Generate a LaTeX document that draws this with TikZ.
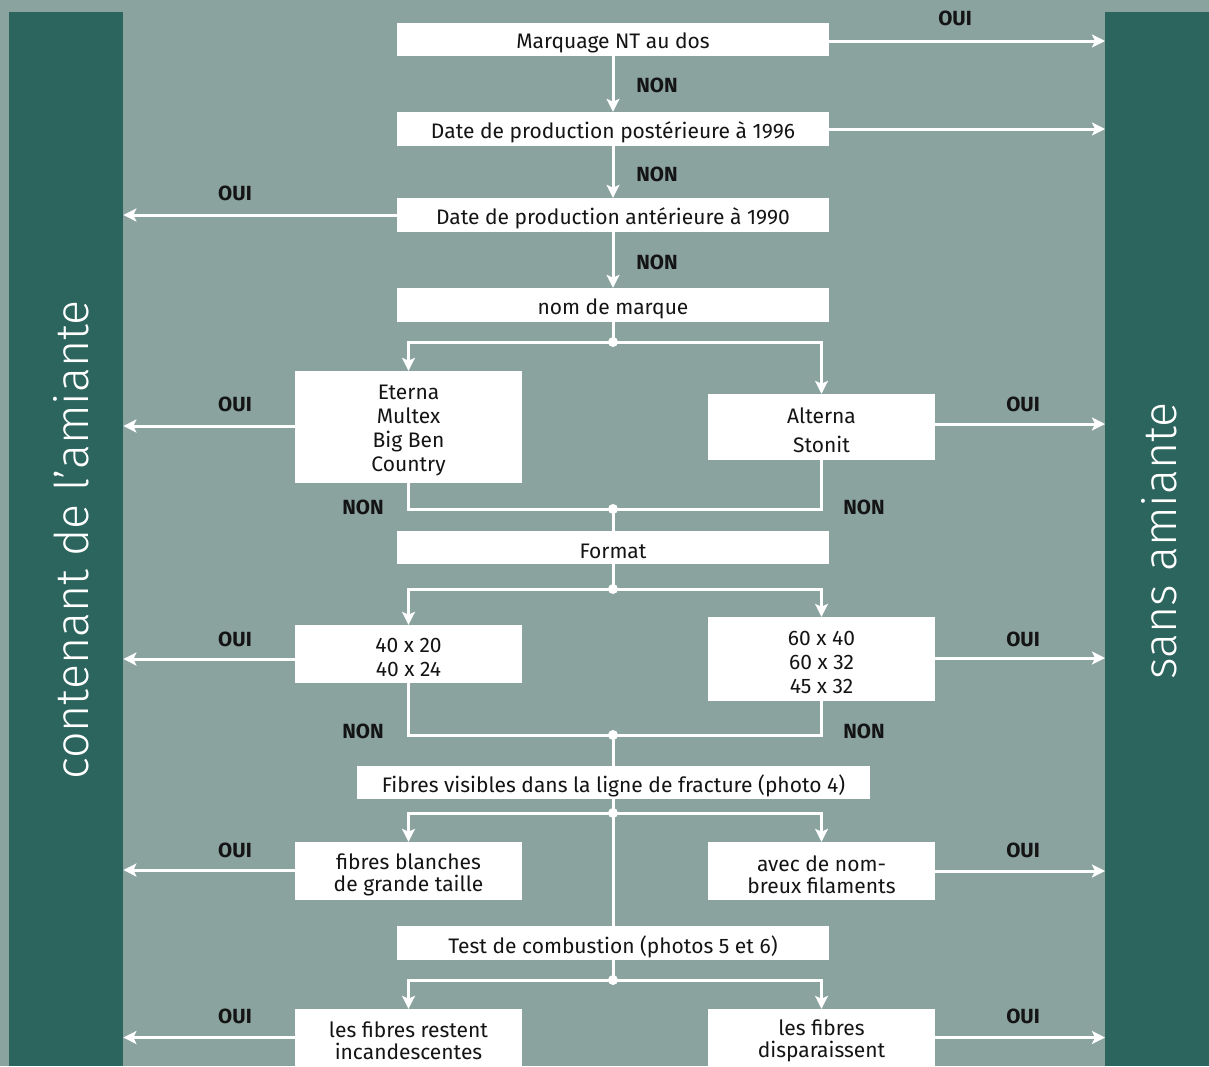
\documentclass[tikz,border=0pt]{standalone}
\usepackage{fontspec}
\setmainfont{Fira Sans}
\newfontfamily\lightfont{Fira Sans Light}
\usetikzlibrary{arrows.meta}
\definecolor{bgc}{RGB}{138,163,159}
\definecolor{darkc}{RGB}{44,101,93}
\definecolor{ink}{RGB}{20,20,20}
\begin{document}
\begin{tikzpicture}[x=1pt,y=-1pt,
 boxtxt/.style={inner sep=0pt,align=center,text=ink,yshift=-3.5pt,font=\fontsize{21}{23.7}\selectfont},
 box/.style={fill=white,inner sep=0pt,label={[boxtxt]center:{#1}}},
 wide/.style={box={#1},minimum width=432pt,minimum height=34pt},
 small/.style={box={#1},minimum width=227pt},
 wire/.style={white,line width=3pt},
 arr/.style={wire,-{Stealth[length=13pt,width=13pt,inset=3pt]}},
 dot/.style={circle,fill=white,inner sep=0pt,minimum size=10pt},
 lab/.style={text=ink,font=\fontsize{20.5}{23}\selectfont\bfseries},
 bar/.style={fill=darkc,inner sep=0pt,anchor=north west,minimum height=1054pt},
 side/.style={white,font=\lightfont\fontsize{46.5}{50}\selectfont,rotate=90}]
\fill[bgc] (0,0) rectangle (1209,1066);
\useasboundingbox (0,0) rectangle (1209,1066);
% side bars
\node[bar,minimum width=114pt] (L) at (9,12) {};
\node[bar,minimum width=104pt] (R) at (1105,12) {};
\node[side] (tl) at (71,540) {contenant de l’amiante};
\node[side] (tr) at (1159,541) {sans amiante};
% boxes
\node[wide={Marquage NT au dos},minimum height=33pt] (b1) at (613,39.5) {};
\node[wide={Date de production postérieure à 1996}] (b2) at (613,129) {};
\node[wide={Date de production antérieure à 1990}] (b3) at (613,215) {};
\node[wide={nom de marque}] (b4) at (613,305) {};
\node[small={Eterna\\Multex\\Big Ben\\Country},minimum height=112pt] (eterna) at (408.5,427) {};
\node[small={Alterna\\[5.3pt]Stonit},minimum height=66pt] (alterna) at (821.5,427) {};
\node[wide={Format},minimum height=33pt] (format) at (613,547.5) {};
\node[small={40 x 20\\40 x 24},minimum height=58pt] (s1) at (408.5,654) {};
\node[small={60 x 40\\60 x 32\\45 x 32},minimum height=84pt] (s2) at (821.5,659) {};
\node[box={Fibres visibles dans la ligne de fracture (photo 4)},minimum width=513pt,minimum height=33pt] (fib) at (613.5,782.5) {};
\node[small={fibres blanches\\[-1.7pt]de grande taille},minimum height=58pt] (fb) at (408.5,871) {};
\node[small={avec de nom-\\[-1.7pt]breux filaments},minimum height=58pt] (fa) at (821.5,871) {};
\node[wide={Test de combustion (photos 5 et 6)}] (test) at (613,943) {};
\node[small={les fibres restent\\[-1.7pt]incandescentes},minimum height=57pt] (cr) at (408.5,1037.5) {};
\node[small={les fibres\\[-1.7pt]disparaissent},minimum height=57pt] (cd) at (821.5,1037.5) {};
% junctions
\node[dot] (j1) at (613,342) {};
\node[dot] (j2) at (613,509) {};
\node[dot] (j3) at (613,589) {};
\node[dot] (j4) at (613,735) {};
\node[dot] (j5) at (613,813) {};
\node[dot] (j6) at (613,980) {};
% main chain
\draw[arr] (b1) -- (b2);
\draw[arr] (b2) -- (b3);
\draw[arr] (b3) -- (b4);
\draw[arr] ([yshift=-1.5pt]b1.east) -- ([yshift=-1.5pt]b1.east -| R.west);
\draw[arr] (b2.east) -- (b2.east -| R.west);
\draw[arr] (b3.west) -- (b3.west -| L.east);
% brand
\draw[wire] (b4.south) -- (j1.center);
\draw[arr] (j1.center) -| (eterna.north);
\draw[arr] (j1.center) -| (alterna.north);
\draw[arr] ([yshift=1pt]eterna.west) -- ([yshift=1pt]eterna.west -| L.east);
\draw[arr] ([yshift=3pt]alterna.east) -- ([yshift=3pt]alterna.east -| R.west);
\draw[wire] (eterna.south) |- (j2.center);
\draw[wire] (alterna.south) |- (j2.center);
\draw[wire] (j2.center) -- (format.north);
% format
\draw[wire] (format.south) -- (j3.center);
\draw[arr] (j3.center) -| (s1.north);
\draw[arr] (j3.center) -| (s2.north);
\draw[arr] ([yshift=-5pt]s1.west) -- ([yshift=-5pt]s1.west -| L.east);
\draw[arr] ([yshift=1pt]s2.east) -- ([yshift=1pt]s2.east -| R.west);
\draw[wire] (s1.south) |- (j4.center);
\draw[wire] (s2.south) |- (j4.center);
\draw[wire] (j4.center) -- (fib.north -| j4);
% fibres
\draw[wire] (fib.south -| j5) -- (j5.center);
\draw[arr] (j5.center) -| (fb.north);
\draw[arr] (j5.center) -| (fa.north);
\draw[wire] (j5.center) -- (test.north);
\draw[arr] ([yshift=1pt]fb.west) -- ([yshift=1pt]fb.west -| L.east);
\draw[arr] (fa.east) -- (fa.east -| R.west);
% combustion
\draw[wire] (test.south) -- (j6.center);
\draw[arr] (j6.center) -| (cr.north);
\draw[arr] (j6.center) -| (cd.north);
\draw[arr] (cr.west) -- (cr.west -| L.east);
\draw[arr] (cd.east) -- (cd.east -| R.west);
% labels
\node[lab] (n1) at (657,85) {NON};
\node[lab] (n2) at (657,174) {NON};
\node[lab] (n3) at (657,262) {NON};
\node[lab] (n4) at (363,507) {NON};
\node[lab] (n5) at (864,507) {NON};
\node[lab] (n6) at (363,731) {NON};
\node[lab] (n7) at (864,731) {NON};
\node[lab] (o1) at (955,18) {OUI};
\node[lab] (o2) at (235,193) {OUI};
\node[lab] (o3) at (235,404) {OUI};
\node[lab] (o4) at (1023,404) {OUI};
\node[lab] (o5) at (235,639) {OUI};
\node[lab] (o6) at (1023,639) {OUI};
\node[lab] (o7) at (235,850) {OUI};
\node[lab] (o8) at (1023,850) {OUI};
\node[lab] (o9) at (235,1016) {OUI};
\node[lab] (o10) at (1023,1016) {OUI};
\end{tikzpicture}
\end{document}
